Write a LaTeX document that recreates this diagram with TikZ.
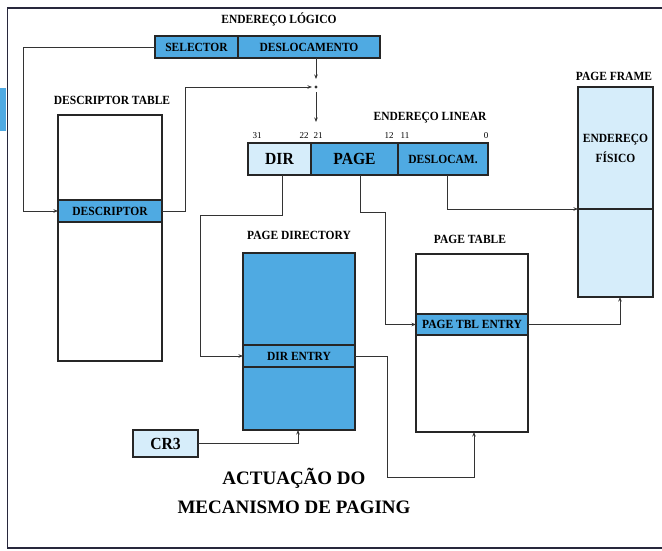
\documentclass[tikz,border=0pt]{standalone}
\usepackage{fontspec}
\setmainfont{Liberation Serif}
\newfontfamily\apertada[FakeStretch=0.92]{Liberation Serif}
\usetikzlibrary{arrows.meta,calc}

\definecolor{azul}{RGB}{79,170,226}
\definecolor{azulclaro}{RGB}{214,237,250}
\definecolor{moldura}{RGB}{40,40,60}

\tikzset{
  caixa/.style={draw=black!85, line width=1.2pt, inner sep=0pt, outer sep=0pt, anchor=north west},
  campo/.style={caixa, font=\apertada\bfseries\fontsize{12.5}{14}\selectfont},
  campogrande/.style={caixa, font=\apertada\bfseries\fontsize{17}{18}\selectfont},
  rotulo/.style={inner sep=0pt, font=\apertada\bfseries\fontsize{12.5}{14}\selectfont},
  bit/.style={inner sep=0pt, font=\fontsize{9}{10}\selectfont},
  titulo/.style={inner sep=0pt, font=\bfseries\fontsize{19}{20}\selectfont},
  seta/.style={draw=black!80, line width=0.8pt, -{Stealth[length=4.5pt,width=3.5pt]}},
  linha/.style={draw=black!80, line width=0.8pt}
}

\begin{document}
\begin{tikzpicture}[x=1pt, y=-1pt]
  \useasboundingbox (0,0) rectangle (662,550);

  % Moldura
  \fill[azul] (0,88) rectangle (6,131);
  \draw[line width=1.8pt, moldura] (662,8) -- (7.5,8) -- (7.5,548) -- (662,548);

  % Endereco logico
  \node[rotulo] (lbllogico) at (279,19) {ENDEREÇO LÓGICO};
  \node[campo, fill=azul, minimum width=83pt, minimum height=22pt] (selector) at (155,36) {SELECTOR};
  \node[campo, fill=azul, minimum width=142pt, minimum height=22pt] (deslog) at (238,36) {DESLOCAMENTO};

  % Descriptor table
  \node[rotulo] (lbldesc) at (112,100) {DESCRIPTOR TABLE};
  \node[caixa, minimum width=104pt, minimum height=246pt] (desctab) at (58,115) {};
  \node[campo, fill=azul, minimum width=104pt, minimum height=22pt] (descentry) at (58,200) {DESCRIPTOR};

  % Endereco linear
  \node[rotulo] (lbllinear) at (430,118) {ENDEREÇO LINEAR};
  \node[bit] (b31) at (257,136) {31};
  \node[bit] (b22) at (304,136) {22};
  \node[bit] (b21) at (318,136) {21};
  \node[bit] (b12) at (389,136) {12};
  \node[bit] (b11) at (405,136) {11};
  \node[bit] (b0) at (486,136) {0};
  \node[campogrande, fill=azulclaro, minimum width=63pt, minimum height=32pt] (dir) at (248,143) {DIR};
  \node[campogrande, fill=azul, minimum width=87pt, minimum height=32pt] (page) at (311,143) {PAGE};
  \node[campo, fill=azul, minimum width=90pt, minimum height=32pt] (deslin) at (398,143) {DESLOCAM.};

  % Page frame
  \node[rotulo] (lblframe) at (614,76) {PAGE FRAME};
  \node[campo, fill=azulclaro, minimum width=75pt, minimum height=122pt, align=center,
        font=\apertada\bfseries\fontsize{12.5}{20}\selectfont] (frametop) at (578,87) {ENDEREÇO\\FÍSICO};
  \node[caixa, fill=azulclaro, minimum width=75pt, minimum height=88pt] (framebot) at (578,209) {};

  % Page directory
  \node[rotulo] (lblpdir) at (299,235) {PAGE DIRECTORY};
  \node[caixa, fill=azul, minimum width=112pt, minimum height=177pt] (pdir) at (243,253) {};
  \node[campo, fill=azul, minimum width=112pt, minimum height=22pt] (direntry) at (243,345) {DIR ENTRY};

  % Page table
  \node[rotulo] (lblptab) at (470,239) {PAGE TABLE};
  \node[caixa, minimum width=112pt, minimum height=178pt] (ptab) at (416,254) {};
  \node[campo, fill=azul, minimum width=112pt, minimum height=21pt] (ptentry) at (416,314) {PAGE TBL ENTRY};

  % CR3
  \node[campogrande, fill=azulclaro, minimum width=65pt, minimum height=27pt] (cr3) at (133,430) {CR3};

  % Soma selector + deslocamento
  \coordinate (soma) at (316,87);
  \draw[seta] (deslog.south -| soma) -- ($(soma)+(0,-8)$);
  \fill[black!80] (soma) circle (1.6pt);
  \draw[seta] (selector.west) -- ++(-132,0) |- (descentry.west);
  \draw[seta] (descentry.east) -- ++(23,0) |- ($(soma)+(-4,0)$);
  \draw[seta] ($(soma)+(0,5)$) -- ($(soma)+(0,35)$);

  % Ligacoes do endereco linear
  \draw[seta] ($(dir.south)+(3,0)$) -- ++(0,40) -| ($(direntry.west)+(-43,0)$) -- (direntry.west);
  \draw[seta] ($(page.south)+(6,0)$) -- ++(0,37) -| ($(ptentry.west)+(-31,0)$) -- (ptentry.west);
  \draw[seta] ($(deslin.south)+(4,0)$) |- (framebot.north west);
  \draw[seta] (ptentry.east) -| ($(framebot.south)+(4.5,0)$);
  \draw[seta] (direntry.east) -- ++(32,0) -- ++(0,121) -| ($(ptab.south)+(2,0)$);
  \draw[seta] (cr3.east) -| ($(pdir.south)+(-1,0)$);

  % Titulo
  \node[titulo] (titulo1) at (294,478) {ACTUAÇÃO DO};
  \node[titulo] (titulo2) at (294,507) {MECANISMO DE PAGING};
\end{tikzpicture}
\end{document}
